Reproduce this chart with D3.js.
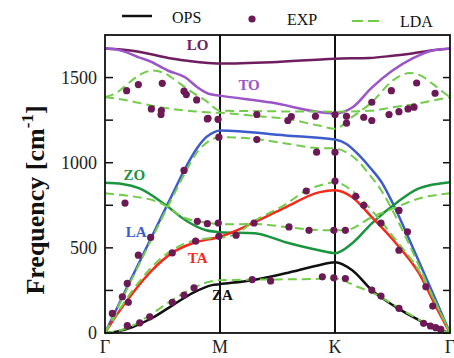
<!DOCTYPE html>
<html>
<head>
<meta charset="utf-8">
<script src="https://cdn.jsdelivr.net/npm/d3@7/dist/d3.min.js"></script>
<style>
  body { margin: 0; background: #fff; }
  text { font-family: "Liberation Serif", "Times New Roman", serif; }
</style>
</head>
<body>
<div class="chart"></div>
<script>
// path coordinate: Γ=0, M=1, K=2, Γ=3
const kTicks = [0, 1, 2, 3]
const kLabels = ["Γ", "M", "K", "Γ"]
const yTicks = [0, 500, 1000, 1500]
const yMinor = [250, 750, 1250]

// OPS branches [k, cm^-1]
const opsLO = [[0,1670],[0.2,1660],[0.38,1640],[0.55,1615],[0.7,1600],[0.85,1588],[1,1582],[1.45,1590],[2,1611],[2.3,1615],[2.5,1628],[2.67,1642],[2.85,1660],[3,1670]]
const opsTO = [[0,1670],[0.1,1665],[0.2,1645],[0.3,1617],[0.38,1599],[0.55,1540],[0.7,1500],[0.8,1445],[0.9,1405],[1,1394],[1.45,1353],[1.89,1295],[2,1289],[2.15,1324],[2.32,1441],[2.5,1541],[2.67,1611],[2.84,1658],[3,1670]]
const opsLA = [[0,0],[0.2,280],[0.4,556],[0.6,834],[0.7,970],[0.8,1085],[0.88,1150],[0.95,1180],[1,1189],[1.57,1160],[2,1136],[2.1,1110],[2.2,1050],[2.3,975],[2.41,880],[2.5,765],[2.7,465],[2.85,235],[3,0]]
const opsZO = [[0,882],[0.15,875],[0.3,849],[0.53,750],[0.7,662],[0.88,603],[1,592],[1.3,586],[1.57,533],[1.86,486],[2,469],[2.15,527],[2.32,644],[2.53,762],[2.73,849],[3,885]]
const opsTA = [[0,0],[0.1,105],[0.24,234],[0.41,369],[0.58,469],[0.76,527],[1,565],[1.28,644],[1.57,738],[1.86,826],[2,838],[2.15,797],[2.32,680],[2.53,527],[2.73,351],[2.88,152],[3,0]]
const opsZA = [[0,0],[0.1,8],[0.24,35],[0.41,88],[0.59,164],[0.76,234],[0.93,281],[1,287],[1.28,310],[1.57,351],[1.86,398],[2,416],[2.15,369],[2.32,252],[2.53,152],[2.73,76],[2.88,29],[3,0]]

// LDA branches
const ldaOpt1 = [[0,1385],[0.1,1410],[0.2,1465],[0.3,1515],[0.41,1541],[0.52,1525],[0.6,1490],[0.7,1441],[0.8,1395],[0.875,1365],[1,1306],[1.3,1303],[1.6,1301],[2,1300],[2.3,1305],[2.5,1325],[2.7,1345],[2.85,1365],[3,1385]]
const ldaOpt2 = [[0,1385],[0.2,1365],[0.4,1336],[0.7,1306],[0.93,1295],[1,1293],[1.3,1275],[1.57,1258],[1.86,1218],[2,1200],[2.15,1269],[2.32,1355],[2.5,1482],[2.65,1527],[2.75,1510],[2.85,1463],[2.93,1420],[3,1385]]
const ldaLA = [[0,0],[0.2,270],[0.4,545],[0.6,815],[0.7,945],[0.8,1060],[0.9,1125],[1,1150],[1.3,1140],[1.6,1110],[1.84,1086],[2,1084],[2.1,1060],[2.2,1010],[2.3,930],[2.4,840],[2.5,720],[2.7,440],[2.85,215],[3,0]]
const ldaZO = [[0,820],[0.15,810],[0.47,767],[0.7,674],[0.93,644],[1,638],[1.3,640],[1.6,620],[1.85,605],[2,603],[2.1,605],[2.32,680],[2.53,738],[2.73,790],[3,820]]
const ldaTA = [[0,0],[0.1,110],[0.24,250],[0.41,390],[0.58,485],[0.76,540],[0.9,556],[1,560],[1.14,580],[1.28,650],[1.57,755],[1.75,838],[1.86,865],[2,885],[2.15,835],[2.32,720],[2.53,545],[2.73,365],[2.88,170],[3,0]]
const ldaZA = [[0,0],[0.2,30],[0.4,110],[0.6,200],[0.8,275],[0.9,300],[1,310],[1.4,314],[1.8,317],[2,320],[2.1,300],[2.2,270],[2.3,245],[2.5,170],[2.7,90],[2.85,35],[3,0]]

// experiment
const expPoints = [[0.188,1423],[0.29,1459],[0.498,1466],[0.687,1420],[0.707,1400],[0.797,1369],[0.403,1316],[0.49,1306],[0.487,1283],[0.896,1261],[0.983,1255],[0.99,1150],[0.687,955],
  [0.174,763],[0.397,561],[0.29,457],[0.194,291],[0.151,213],[0.203,180],[0.064,115],[0.194,43],[0.302,60],[0.389,95],[0.585,180],[0.687,223],[0.774,265],[0.585,470],[0.788,539],[0.803,656],[0.89,642],[0.985,646],[0.99,568],
  [1.14,574],[1.296,646],[1.6,623],[1.774,603],[1.99,603],[2.09,603],[1.75,834],[2.0,892],[2.18,803],[2.25,750],[2.556,720],[2.4,646],[2.63,594],[2.556,486],[2.79,271],[2.85,158],
  [1.28,314],[1.44,306],[1.89,330],[1.99,324],[2.09,320],[2.32,252],[2.4,217],[2.556,145],[2.77,57],[2.83,41],[2.876,31],[2.92,21],
  [1.32,1283],[1.32,1136],[1.59,1248],[1.62,1271],[1.83,1273],[1.84,1062],[2.0,1062],[2.0,1283],[2.1,1273],[2.1,1232],[2.25,1267],[2.32,1248],[2.32,1355],[2.47,1283],[2.556,1300],[2.635,1316],[2.687,1326],[2.49,1423],[2.71,1468],[2.87,1408],[0.89,1257]]

const opsSeries = [
  { name: "LO", data: opsLO, color: "#6e1d5e" },
  { name: "TO", data: opsTO, color: "#9b55c9" },
  { name: "LA", data: opsLA, color: "#3c5ccc" },
  { name: "ZO", data: opsZO, color: "#1b9440" },
  { name: "TA", data: opsTA, color: "#f52a1c" },
  { name: "ZA", data: opsZA, color: "#111111" }
]
const ldaSeries = [ldaOpt1, ldaOpt2, ldaLA, ldaZO, ldaTA, ldaZA]

const branchLabels = [
  { text: "LO", k: 0.71, v: 1660, color: "#6e1d5e" },
  { text: "TO", k: 1.16, v: 1427, color: "#9b55c9" },
  { text: "ZO", k: 0.16, v: 898, color: "#1b9440" },
  { text: "LA", k: 0.18, v: 564, color: "#3c5ccc" },
  { text: "TA", k: 0.72, v: 411, color: "#f52a1c" },
  { text: "ZA", k: 0.93, v: 194, color: "#111111" }
]

const width = 454, height = 358
const mLeft = 105, mRight = 450, mTop = 35, mBottom = 333
const ldaColor = "#72cc4a", expColor = "#6c1a55"

const svg = d3.select(".chart").append("svg")
  .attr("width", width)
  .attr("height", height)

const x = d3.scaleLinear().domain([0, 3]).range([mLeft, mRight])
const y = d3.scaleLinear().domain([0, 1750]).range([mBottom, mTop])

const line = d3.line()
  .x(d => x(d[0]))
  .y(d => y(d[1]))
  .curve(d3.curveMonotoneX)

const plot = svg.append("g")

// high symmetry lines
plot.selectAll(".sym")
  .data([1, 2])
  .enter().append("line")
  .attr("x1", d => x(d)).attr("x2", d => x(d))
  .attr("y1", mTop).attr("y2", mBottom)
  .attr("stroke", "#111").attr("stroke-width", 2)

// ticks inside on both sides
const allTicks = yTicks.concat(yMinor)
plot.selectAll(".tl")
  .data(allTicks)
  .enter().append("line")
  .attr("x1", mLeft).attr("x2", mLeft + 8)
  .attr("y1", d => y(d)).attr("y2", d => y(d))
  .attr("stroke", "#111").attr("stroke-width", 1.5)
plot.selectAll(".tr")
  .data(allTicks)
  .enter().append("line")
  .attr("x1", mRight - 7).attr("x2", mRight)
  .attr("y1", d => y(d)).attr("y2", d => y(d))
  .attr("stroke", "#111").attr("stroke-width", 1.5)

// OPS curves
plot.selectAll(".ops")
  .data(opsSeries)
  .enter().append("path")
  .attr("d", d => line(d.data))
  .attr("fill", "none")
  .attr("stroke", d => d.color)
  .attr("stroke-width", 2.5)

// LDA curves
plot.selectAll(".lda")
  .data(ldaSeries)
  .enter().append("path")
  .attr("d", d => line(d))
  .attr("fill", "none")
  .attr("stroke", ldaColor)
  .attr("stroke-width", 2)
  .attr("stroke-dasharray", "9,5")

// experiment points
plot.selectAll("circle")
  .data(expPoints)
  .enter().append("circle")
  .attr("cx", d => x(d[0]))
  .attr("cy", d => y(d[1]))
  .attr("r", 3.6)
  .attr("fill", expColor)

// frame
svg.append("rect")
  .attr("x", mLeft).attr("y", mTop)
  .attr("width", mRight - mLeft).attr("height", mBottom - mTop)
  .attr("fill", "none").attr("stroke", "#111").attr("stroke-width", 1.8)

// branch labels
svg.selectAll(".bl")
  .data(branchLabels)
  .enter().append("text")
  .attr("x", d => x(d.k))
  .attr("y", d => y(d.v))
  .attr("fill", d => d.color)
  .attr("font-size", 15)
  .attr("font-weight", "bold")
  .text(d => d.text)

// y tick labels
svg.selectAll(".yl")
  .data(yTicks)
  .enter().append("text")
  .attr("x", 97)
  .attr("y", d => y(d) + 6)
  .attr("text-anchor", "end")
  .attr("font-size", 18)
  .attr("fill", "#222")
  .text(d => d)

// k labels
svg.selectAll(".kl")
  .data(kTicks)
  .enter().append("text")
  .attr("x", d => x(d))
  .attr("y", 353)
  .attr("text-anchor", "middle")
  .attr("font-size", 18)
  .attr("fill", "#222")
  .text((d, i) => kLabels[i])

// y title
const yt = svg.append("text")
  .attr("transform", "translate(44,200) rotate(-90)")
  .attr("text-anchor", "middle")
  .attr("font-size", 26)
  .attr("font-weight", "bold")
  .attr("fill", "#111")
yt.append("tspan").text("Frequency [cm")
yt.append("tspan").attr("font-size", 17).attr("dy", -11).text("-1")
yt.append("tspan").attr("dy", 11).text("]")

// legend
const lg = svg.append("g")
lg.append("line").attr("x1", 122).attr("x2", 152).attr("y1", 16).attr("y2", 16)
  .attr("stroke", "#111").attr("stroke-width", 2.5)
lg.append("text").attr("x", 172).attr("y", 23).attr("font-size", 16).attr("fill", "#111").text("OPS")
lg.append("circle").attr("cx", 252).attr("cy", 19).attr("r", 3.6).attr("fill", expColor)
lg.append("text").attr("x", 287).attr("y", 25).attr("font-size", 16).attr("fill", "#111").text("EXP")
lg.append("line").attr("x1", 352).attr("x2", 380).attr("y1", 21).attr("y2", 21)
  .attr("stroke", ldaColor).attr("stroke-width", 2).attr("stroke-dasharray", "11,5")
lg.append("text").attr("x", 400).attr("y", 27).attr("font-size", 16).attr("fill", "#111").text("LDA")
</script>
</body>
</html>
